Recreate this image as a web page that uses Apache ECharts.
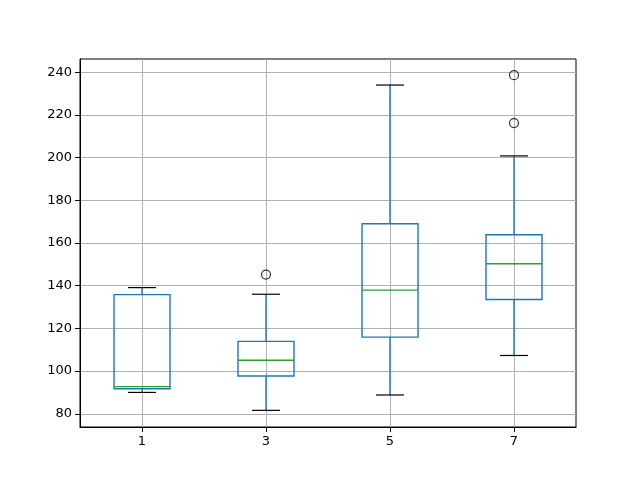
<!DOCTYPE html>
<html>
<head>
<meta charset="utf-8">
<script src="https://cdn.jsdelivr.net/npm/echarts@6/dist/echarts.min.js"></script>
<style>
  html, body { margin: 0; padding: 0; background: #fff; }
  #chart { width: 640px; height: 480px; }
</style>
</head>
<body>
<div id="chart"></div>
<script>
const categories = ['1', '3', '5', '7'];
const whiskerLow = [90.0, 81.6, 88.8, 107.3];
const q1 = [91.7, 97.7, 115.9, 133.5];
const median = [92.7, 105.1, 137.9, 150.3];
const q3 = [135.8, 113.9, 169.0, 163.9];
const whiskerHigh = [139.1, 136.0, 234.0, 200.8];
// outliers: category label and value
const outlierCats = ['3', '7', '7'];
const outlierValues = [145.2, 216.2, 238.6];
const yTicks = [80, 100, 120, 140, 160, 180, 200, 220, 240];

const chart = echarts.init(document.getElementById('chart'), null, { renderer: 'canvas' });

const xPositions = categories.map((c, i) => i + 1);
const boxData = categories.map((c, i) => [i + 1, whiskerLow[i], q1[i], median[i], q3[i], whiskerHigh[i]]);
const outlierData = outlierCats.map((c, i) => [categories.indexOf(c) + 1, outlierValues[i]]);

function renderBox(params, api) {
  const x = api.value(0);
  const pLow = api.coord([x, api.value(1)]);
  const pQ1 = api.coord([x, api.value(2)]);
  const pMed = api.coord([x, api.value(3)]);
  const pQ3 = api.coord([x, api.value(4)]);
  const pHigh = api.coord([x, api.value(5)]);
  const cx = pLow[0];
  const half = 28;
  const cap = 14;
  const blue = { stroke: '#1f77b4', lineWidth: 1.4, fill: null };
  return {
    type: 'group',
    children: [
      { type: 'line', shape: { x1: cx, y1: pQ1[1], x2: cx, y2: pLow[1] }, style: blue },
      { type: 'line', shape: { x1: cx, y1: pQ3[1], x2: cx, y2: pHigh[1] }, style: blue },
      { type: 'rect', shape: { x: cx - half, y: pQ3[1], width: half * 2, height: pQ1[1] - pQ3[1] }, style: blue },
      { type: 'line', shape: { x1: cx - half, y1: pMed[1], x2: cx + half, y2: pMed[1] }, style: { stroke: '#2ca02c', lineWidth: 1.4 } },
      { type: 'line', shape: { x1: cx - cap, y1: pLow[1], x2: cx + cap, y2: pLow[1] }, style: { stroke: '#000', lineWidth: 1.2 } },
      { type: 'line', shape: { x1: cx - cap, y1: pHigh[1], x2: cx + cap, y2: pHigh[1] }, style: { stroke: '#000', lineWidth: 1.2 } }
    ]
  };
}

const labelStyle = { color: '#000', fontFamily: 'DejaVu Sans', fontSize: 13 };

chart.setOption({
  animation: false,
  grid: { left: 80, right: 64, top: 59, bottom: 53, show: true, borderColor: '#000', borderWidth: 1 },
  xAxis: {
    type: 'value',
    min: 0.5,
    max: 4.5,
    splitNumber: 4,
    axisLine: { lineStyle: { color: '#000', width: 1 } },
    axisTick: { length: 5, lineStyle: { color: '#000' }, customValues: xPositions },
    axisLabel: {
      ...labelStyle,
      margin: 8,
      customValues: xPositions,
      formatter: (v) => categories[Math.round(v) - 1] ?? ''
    },
    splitLine: { show: true, lineStyle: { color: '#b0b0b0', width: 1 } }
  },
  yAxis: {
    type: 'value',
    min: 73.8,
    max: 246.2,
    splitNumber: 8,
    axisLine: { show: true, lineStyle: { color: '#000', width: 1 } },
    axisTick: { show: true, length: 5, lineStyle: { color: '#000' }, customValues: yTicks },
    axisLabel: { ...labelStyle, margin: 8, customValues: yTicks },
    splitLine: { show: true, lineStyle: { color: '#b0b0b0', width: 1 } }
  },
  series: [
    {
      type: 'custom',
      renderItem: renderBox,
      encode: { x: 0, y: [1, 2, 3, 4, 5] },
      data: boxData,
      z: 3
    },
    {
      type: 'scatter',
      symbol: 'circle',
      symbolSize: 9,
      itemStyle: { color: 'rgba(0,0,0,0)', borderColor: '#000', borderWidth: 1.2 },
      data: outlierData,
      z: 4
    }
  ]
});
</script>
</body>
</html>
